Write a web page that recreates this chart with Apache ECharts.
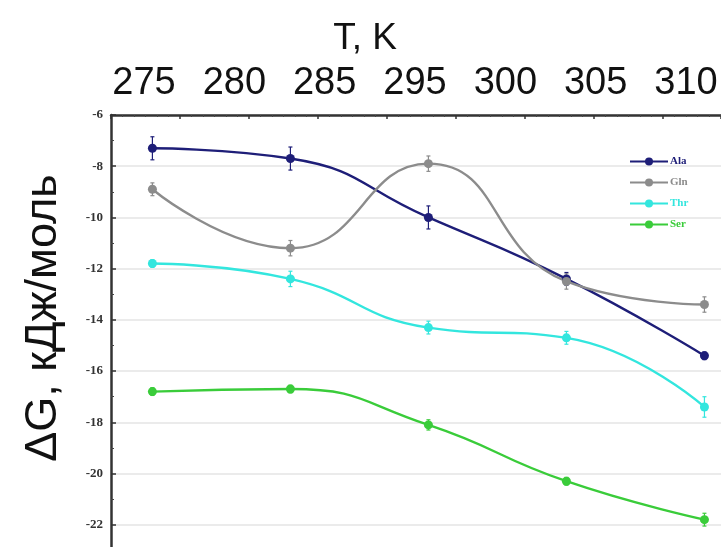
<!DOCTYPE html>
<html>
<head>
<meta charset="utf-8">
<script src="https://cdn.jsdelivr.net/npm/echarts@6/dist/echarts.min.js"></script>
<style>html,body{margin:0;padding:0;background:#fff}#c{width:721px;height:547px}</style>
</head>
<body>
<div id="c"></div>
<script>
// Data
const temps = [278, 288, 298, 308, 318];
const topTickLabels = ['275', '280', '285', '295', '300', '305', '310'];
const seriesNames = ['Ala', 'Gln', 'Thr', 'Ser'];
const ala = [-7.3, -7.7, -10.0, -12.4, -15.4];
const gln = [-8.9, -11.2, -7.9, -12.5, -13.4];
const thr = [-11.8, -12.4, -14.3, -14.7, -17.4];
const ser = [-16.8, -16.7, -18.1, -20.3, -21.8];
const alaErr = [0.45, 0.45, 0.45, 0.25, 0.15];
const glnErr = [0.25, 0.3, 0.3, 0.3, 0.3];
const thrErr = [0.15, 0.3, 0.25, 0.25, 0.4];
const serErr = [0.15, 0.15, 0.2, 0.15, 0.25];

const colors = ['#1e1e78', '#8c8c8c', '#33e6de', '#3acc3a'];
const values = [ala, gln, thr, ser];
const errs = [alaErr, glnErr, thrErr, serErr];

const chart = echarts.init(document.getElementById('c'), null, {renderer: 'canvas'});

const lineSeries = values.map((v, i) => ({
  name: seriesNames[i],
  type: 'line',
  xAxisIndex: 0, yAxisIndex: 0,
  data: v.map((y, j) => [temps[j], y]),
  smooth: 0.5,
  symbol: 'circle',
  symbolSize: 9,
  lineStyle: {color: colors[i], width: 2.4},
  itemStyle: {color: colors[i]},
  z: 3
}));

const errSeries = values.map((v, i) => ({
  type: 'custom',
  xAxisIndex: 0, yAxisIndex: 0,
  data: v.map((y, j) => [temps[j], y - errs[i][j], y + errs[i][j]]),
  renderItem: function (params, api) {
    const lo = api.coord([api.value(0), api.value(1)]);
    const hi = api.coord([api.value(0), api.value(2)]);
    const w = 2;
    const st = {stroke: colors[i], lineWidth: 1.2};
    return {type: 'group', children: [
      {type: 'line', shape: {x1: lo[0], y1: lo[1], x2: hi[0], y2: hi[1]}, style: st},
      {type: 'line', shape: {x1: lo[0] - w, y1: lo[1], x2: lo[0] + w, y2: lo[1]}, style: st},
      {type: 'line', shape: {x1: hi[0] - w, y1: hi[1], x2: hi[0] + w, y2: hi[1]}, style: st}
    ]};
  },
  silent: true,
  z: 2
}));

chart.setOption({
  animation: false,
  backgroundColor: '#ffffff',
  grid: [
    {left: 111, width: 610, top: 115, height: 461, containLabel: false, outerBoundsMode: 'none'},
    {left: 144, width: 542, top: 115, height: 461, containLabel: false, outerBoundsMode: 'none'}
  ],
  legend: {
    orient: 'vertical',
    left: 624, top: 151,
    itemWidth: 38, itemHeight: 10, itemGap: 10,
    data: seriesNames.map((n, i) => ({name: n, textStyle: {color: colors[i]}})),
    textStyle: {fontFamily: 'Liberation Serif', fontSize: 11, fontWeight: 'bold', padding: [0, 0, 0, -3]}
  },
  xAxis: [
    {
      type: 'value', gridIndex: 0, position: 'top',
      min: 275, max: 319.2, interval: 5,
      axisLine: {show: true, lineStyle: {color: '#333', width: 2.5}},
      axisTick: {show: true, inside: true, length: 4, lineStyle: {color: '#333', width: 1.5}},
      minorTick: {show: true, splitNumber: 6, length: 2, lineStyle: {color: '#444', width: 1}},
      axisLabel: {show: false},
      splitLine: {show: false}
    },
    {
      type: 'value', gridIndex: 1, position: 'top',
      min: 0, max: 6, interval: 1,
      axisLine: {show: false}, axisTick: {show: false}, splitLine: {show: false},
      axisLabel: {
        show: true, margin: 12, color: '#111',
        fontFamily: 'Liberation Sans, Arial', fontSize: 38,
        formatter: v => topTickLabels[v]
      }
    }
  ],
  yAxis: [
    {
      type: 'value', gridIndex: 0,
      min: -24, max: -6, interval: 2,
      axisLine: {show: true, lineStyle: {color: '#333', width: 2.5}},
      axisTick: {show: true, inside: true, length: 5, lineStyle: {color: '#333', width: 1.5}},
      minorTick: {show: true, splitNumber: 2, length: 3, lineStyle: {color: '#444'}},
      axisLabel: {margin: 8, color: '#333', fontFamily: 'Liberation Serif', fontWeight: 'bold', fontSize: 13},
      splitLine: {show: true, lineStyle: {color: '#e4e4e4', width: 1.5}}
    },
    {type: 'value', gridIndex: 1, show: false}
  ],
  graphic: [
    {type: 'text', x: 365, y: 39, style: {text: 'T, K', font: '37px "Liberation Sans", Arial', fill: '#111', textAlign: 'center', textVerticalAlign: 'middle'}},
    {type: 'text', x: 44, y: 318, rotation: Math.PI / 2, style: {text: '\u0394G, кДж/моль', font: '45px "Liberation Sans", Arial', fill: '#111', textAlign: 'center', textVerticalAlign: 'middle'}}
  ],
  series: errSeries.concat(lineSeries)
});
</script>
</body>
</html>
